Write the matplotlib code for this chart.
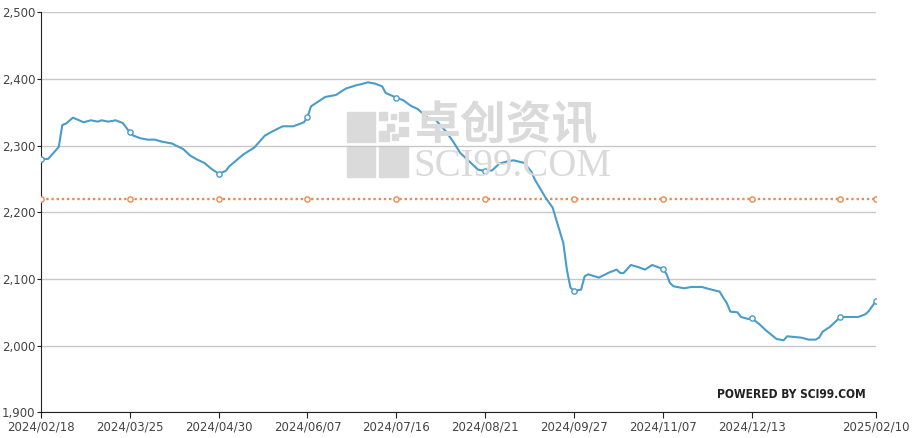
import matplotlib.pyplot as plt
import numpy as np
from matplotlib.patches import Rectangle
from matplotlib.ticker import FuncFormatter

# traced points: trading-day index -> price
idx = [0, 2, 3, 5, 6, 7, 9, 12, 14, 16, 17, 19, 21, 23, 25, 26, 28, 30, 32, 34,
       37, 38, 40, 42, 44, 46, 48, 50, 52, 53, 55, 57, 60, 62, 63, 65, 68, 71, 74, 75,
       76, 78, 80, 83, 85, 86, 89, 90, 92, 94, 96, 97, 100, 102, 104, 106, 109, 111, 114, 116,
       118, 120, 123, 125, 127, 129, 131, 133, 136, 138, 139, 142, 144, 145, 147, 148, 149, 150, 152, 153,
       154, 157, 160, 162, 163, 164, 166, 168, 170, 172, 174, 175, 176, 177, 178, 181, 183, 186, 188, 191,
       192, 193, 194, 196, 197, 199, 200, 202, 204, 207, 209, 210, 214, 216, 218, 219, 220, 222, 225, 230,
       232, 233, 235]
price = [2280, 2280, 2286, 2298, 2331, 2333, 2342, 2335, 2338, 2336, 2338, 2336, 2338, 2334, 2320, 2315, 2311, 2309, 2309, 2306,
         2303, 2300, 2295, 2285, 2279, 2274, 2265, 2258, 2262, 2269, 2278, 2287, 2297, 2309, 2315, 2321, 2329, 2329, 2335, 2343,
         2359, 2366, 2373, 2376, 2383, 2386, 2391, 2392, 2395, 2393, 2389, 2379, 2372, 2368, 2360, 2355, 2341, 2339, 2321, 2306,
         2289, 2279, 2264, 2262, 2263, 2273, 2276, 2278, 2274, 2261, 2249, 2222, 2207, 2189, 2154, 2114, 2087, 2082, 2084, 2104,
         2107, 2102, 2110, 2114, 2109, 2109, 2121, 2118, 2114, 2121, 2117, 2115, 2108, 2094, 2089, 2086, 2088, 2088, 2085, 2081,
         2072, 2064, 2051, 2050, 2043, 2040, 2041, 2033, 2023, 2010, 2008, 2014, 2012, 2009, 2009, 2012, 2021, 2028, 2043, 2043,
         2047, 2052, 2067]
ref_value = 2220

tick_pos = [0, 25, 50, 75, 100, 125, 150, 175, 200, 235]
tick_labels = ["2024/02/18", "2024/03/25", "2024/04/30", "2024/06/07", "2024/07/16",
               "2024/08/21", "2024/09/27", "2024/11/07", "2024/12/13", "2025/02/10"]

idx = np.array(idx)
price = np.array(price)
assert len(idx) == len(price)

W, H = 914, 438
fig = plt.figure(figsize=(W / 100, H / 100), dpi=100)
ax = fig.add_axes([41 / W, 1 - 412.3 / H, 835 / W, 400 / H])


def px(x, y):
    return x / W, 1 - y / H


# watermark logo
wm = "#dadada"
blocks = [(347, 112, 28, 30), (347, 146, 28, 31), (379, 146, 29, 31),
          (379, 112, 8, 8), (391, 114, 5, 5), (399, 112, 9, 9),
          (387, 124, 7, 7), (399, 127, 9, 9), (379, 131, 10, 10), (392, 134, 6, 6)]
for bx, by, bw, bh in blocks:
    x0, y0 = px(bx, by + bh)
    fig.add_artist(Rectangle((x0, y0), bw / W, bh / H, transform=fig.transFigure,
                             color=wm, zorder=0))
fig.text(*px(415, 127), "卓创资讯", family=["Noto Sans CJK SC", "DejaVu Sans"],
         fontsize=33, fontweight="bold", color=wm, va="center", ha="left", zorder=0)
fig.text(*px(413, 167), "SCI99.COM", family="Liberation Serif", fontsize=28,
         color=wm, va="center", ha="left", zorder=0)
ax.patch.set_alpha(0)

mark = np.where((idx % 25 == 0) | (idx == idx[-1]))[0]
ref_x = idx[mark]
ax.plot(ref_x, np.full(len(ref_x), ref_value), color="#ec8b50", lw=1.7,
        linestyle=(0, (1, 1.2)), marker="o", ms=3.8, mfc="white", mec="#ec8b50",
        mew=1.0, zorder=3)
ax.plot(idx, price, color="#4a9cc9", lw=1.5, marker="o", markevery=list(mark),
        ms=3.8, mfc="white", mec="#4a9cc9", mew=1.0, zorder=4)

ax.set_xlim(0, 235)
ax.set_ylim(1900, 2500)
ax.set_yticks(np.arange(1900, 2501, 100))
ax.yaxis.set_major_formatter(FuncFormatter(lambda v, p: f"{int(v):,}"))
ax.set_xticks(tick_pos)
ax.set_xticklabels(tick_labels)
ax.grid(axis="y", color="#c8c8c8", lw=1)
ax.set_axisbelow(True)
for s in ["top", "right"]:
    ax.spines[s].set_visible(False)
ax.spines["left"].set_color("#222222")
ax.spines["bottom"].set_color("#222222")
ax.tick_params(axis="y", length=3, pad=1, labelsize=8.5, colors="#222222",
               labelcolor="#444444")
ax.tick_params(axis="x", length=4, pad=2, labelsize=8.5, colors="#222222",
               labelcolor="#444444")

fig.text(*px(866, 394), "POWERED BY SCI99.COM",
         family=["DejaVu Sans"], fontweight="bold", fontstretch="condensed",
         fontsize=8.6, color="#222222", ha="right", va="center")

fig.savefig("out.png", dpi=100)
